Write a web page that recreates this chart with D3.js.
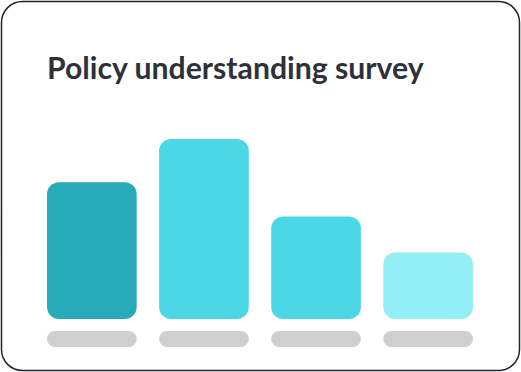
<!DOCTYPE html>
<html>
<head>
<meta charset="utf-8">
<script src="https://cdn.jsdelivr.net/npm/d3@7"></script>
<style>
  html, body { margin: 0; padding: 0; background: #fff; }
  svg { display: block; }
</style>
</head>
<body>
<div id="chart"></div>
<script>
// survey answers, one bar each (labels are blank placeholders in the card)
const categories = ["A", "B", "C", "D"];
const values = [76, 100, 57, 37];
const barColors = ["#29aab9", "#4bd7e6", "#4bd7e6", "#92eff6"];
const title = "Policy understanding survey";

const W = 521, H = 372;

const svg = d3.select("#chart").append("svg")
  .attr("width", W)
  .attr("height", H);

// card outline
svg.append("rect")
  .attr("x", 1.5).attr("y", 1.5)
  .attr("width", W - 3).attr("height", H - 3)
  .attr("rx", 21).attr("ry", 21)
  .attr("fill", "#fff")
  .attr("stroke", "#22232e")
  .attr("stroke-width", 1.5);

svg.append("text")
  .attr("x", 47)
  .attr("y", 79)
  .attr("font-family", "Lato, sans-serif")
  .attr("font-weight", 700)
  .attr("font-size", 30.2)
  .attr("fill", "#2e3139")
  .text(title);

const x = d3.scaleBand()
  .domain(categories)
  .range([47, 473])
  .paddingInner(0.2)
  .paddingOuter(0);

const y = d3.scaleLinear()
  .domain([0, 100])
  .range([319, 139]);

svg.selectAll(".bar")
  .data(categories)
  .enter().append("rect")
  .attr("class", "bar")
  .attr("x", d => x(d))
  .attr("y", (d, i) => y(values[i]))
  .attr("width", x.bandwidth())
  .attr("height", (d, i) => y(0) - y(values[i]))
  .attr("rx", 12).attr("ry", 12)
  .attr("fill", (d, i) => barColors[i]);

// grey label placeholders
svg.selectAll(".pill")
  .data(categories)
  .enter().append("rect")
  .attr("class", "pill")
  .attr("x", d => x(d))
  .attr("y", 331)
  .attr("width", x.bandwidth())
  .attr("height", 16)
  .attr("rx", 8).attr("ry", 8)
  .attr("fill", "#cfcfcf");
</script>
</body>
</html>
